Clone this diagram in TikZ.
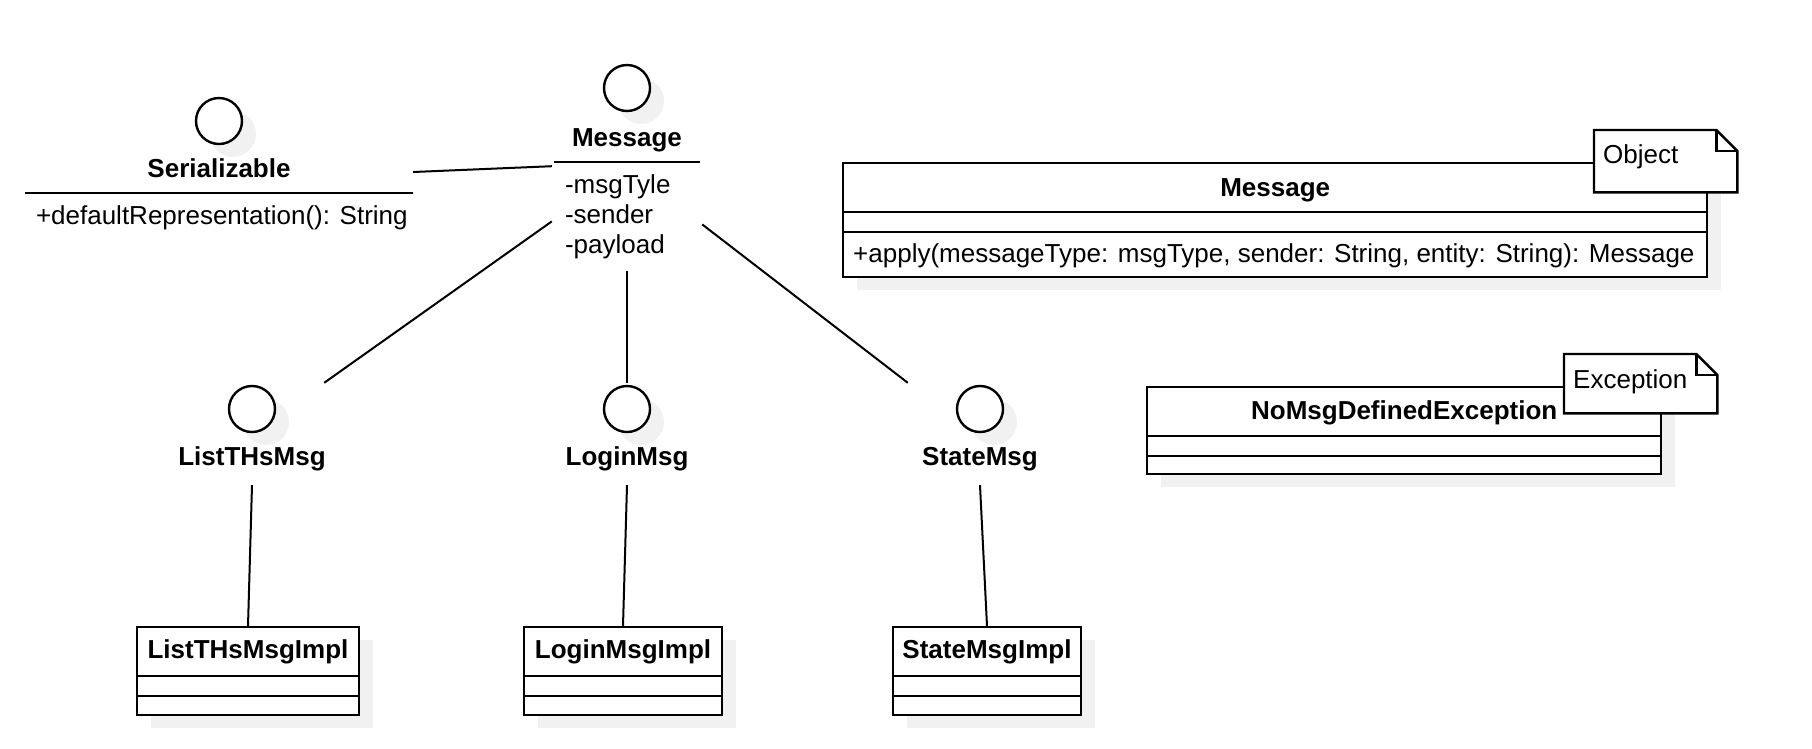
\documentclass[tikz,border=0pt]{standalone}
\usepackage{fontspec}
\setmainfont{Liberation Sans}
\usepackage{tikz}
\usetikzlibrary{shadows}
\definecolor{ShadowGray}{HTML}{F1F1F1}
\tikzstyle{flat shadow} = [drop shadow={shadow xshift=14pt, shadow yshift=-13pt, fill=ShadowGray, opacity=1}]
\tikzstyle{iface} = [circle, draw, line width=2.4pt, fill=white, minimum size=46pt, inner sep=0pt, flat shadow]
\tikzstyle{ifacebox} = [minimum width=144pt, minimum height=102pt, inner sep=0pt]
\tikzstyle{title} = [font=\fontsize{26}{30}\bfseries\selectfont, inner sep=0pt, text height=19pt, text depth=5pt]
\tikzstyle{plain} = [font=\fontsize{26}{30}\selectfont, inner sep=0pt]
\tikzstyle{classbox} = [draw, line width=2.4pt, fill=white, inner sep=0pt, flat shadow]
\tikzstyle{box} = [line width=2.4pt]
\tikzstyle{conn} = [line width=2pt]

\begin{document}
\begin{tikzpicture}[x=1pt, y=-1pt]
  \useasboundingbox (0,0) rectangle (1812,748);

  % interfaces
  \node[iface] (serialC) at (219,121) {};
  \node[title, minimum width=388pt, minimum height=46pt] (serial) at (219,170) {Serializable};
  \draw[box] (serial.south west) -- (serial.south east);
  \node[plain, anchor=west] (serialOps) at ([xshift=11pt,yshift=-25pt]serial.south west) {+defaultRepresentation(): String};

  \node[iface] (msgC) at (627,88) {};
  \node[title, minimum width=146pt, minimum height=46pt] (msgName) at (627,139) {Message};
  \draw[box] (msgName.south west) -- (msgName.south east);
  \node[plain, anchor=north, minimum width=150pt, minimum height=108pt, text width=124pt, align=left] (msgbody) at (msgName.south) {-msgTyle\\-sender\\-payload};

  \draw[conn] ([yshift=-2pt]serial.east) -- ([yshift=-4pt]msgbody.north west);

  % the three sub-interfaces and their classes
  \foreach \nm/\x/\lbl in {listThs/252/ListTHsMsg, login/627/LoginMsg, state/980/StateMsg} {
    \node[ifacebox] (\nm) at (\x,434) {};
    \node[iface] at (\x,409) {};
    \node[title] at (\x,458) {\lbl};
  }
  \foreach \nm/\x/\w/\lbl in {listThs/248/222/ListTHsMsgImpl, login/623/198/LoginMsgImpl, state/987/188/StateMsgImpl} {
    \node[classbox, anchor=north, minimum width=\w pt, minimum height=88pt] (\nm Impl) at (\x,626) {};
    \node[title] at ([yshift=-25pt]\nm Impl.north) {\lbl};
    \draw[box] ([yshift=-50pt]\nm Impl.north west) -- ([yshift=-50pt]\nm Impl.north east);
    \draw[box] ([yshift=-70pt]\nm Impl.north west) -- ([yshift=-70pt]\nm Impl.north east);
    \draw[conn] (\nm.south) -- (\nm Impl.north);
  }

  \draw[conn] ([yshift=-5pt]msgbody.west) -- (listThs.north east);
  \draw[conn] (msgbody.south) -- (login.north);
  \draw[conn] ([yshift=-8pt]msgbody.east) -- (state.north west);

  % Message object
  \node[classbox, anchor=north west, minimum width=864pt, minimum height=114pt] (msgClass) at (842,162) {};
  \node[title] at ([yshift=-27pt]msgClass.north) {Message};
  \draw[box] ([yshift=-50pt]msgClass.north west) -- ([yshift=-50pt]msgClass.north east);
  \draw[box] ([yshift=-70pt]msgClass.north west) -- ([yshift=-70pt]msgClass.north east);
  \node[plain, anchor=west] at ([xshift=11pt,yshift=-94pt]msgClass.north west) {+apply(messageType: msgType, sender: String, entity: String): Message};

  \node[anchor=north west, minimum width=143pt, minimum height=62pt, inner sep=0pt] (objNote) at (1594,130) {};
  \draw[box, fill=white] (objNote.south west) -- (objNote.north west) -- ([xshift=-21pt]objNote.north east) -- ([yshift=-21pt]objNote.north east) -- (objNote.south east) -- cycle;
  \draw[box] ([xshift=-21pt]objNote.north east) -- ([xshift=-21pt,yshift=-21pt]objNote.north east) -- ([yshift=-21pt]objNote.north east);
  \node[plain, anchor=west] at ([xshift=9pt,yshift=-27pt]objNote.north west) {Object};

  % exception
  \node[classbox, anchor=north west, minimum width=514pt, minimum height=87pt] (noMsg) at (1146,386) {};
  \node[title] at ([yshift=-26pt]noMsg.north) {NoMsgDefinedException};
  \draw[box] ([yshift=-50pt]noMsg.north west) -- ([yshift=-50pt]noMsg.north east);
  \draw[box] ([yshift=-70pt]noMsg.north west) -- ([yshift=-70pt]noMsg.north east);

  \node[anchor=north west, minimum width=153pt, minimum height=59pt, inner sep=0pt] (excNote) at (1564,354) {};
  \draw[box, fill=white] (excNote.south west) -- (excNote.north west) -- ([xshift=-21pt]excNote.north east) -- ([yshift=-21pt]excNote.north east) -- (excNote.south east) -- cycle;
  \draw[box] ([xshift=-21pt]excNote.north east) -- ([xshift=-21pt,yshift=-21pt]excNote.north east) -- ([yshift=-21pt]excNote.north east);
  \node[plain, anchor=west] at ([xshift=9pt,yshift=-28pt]excNote.north west) {Exception};
\end{tikzpicture}
\end{document}
